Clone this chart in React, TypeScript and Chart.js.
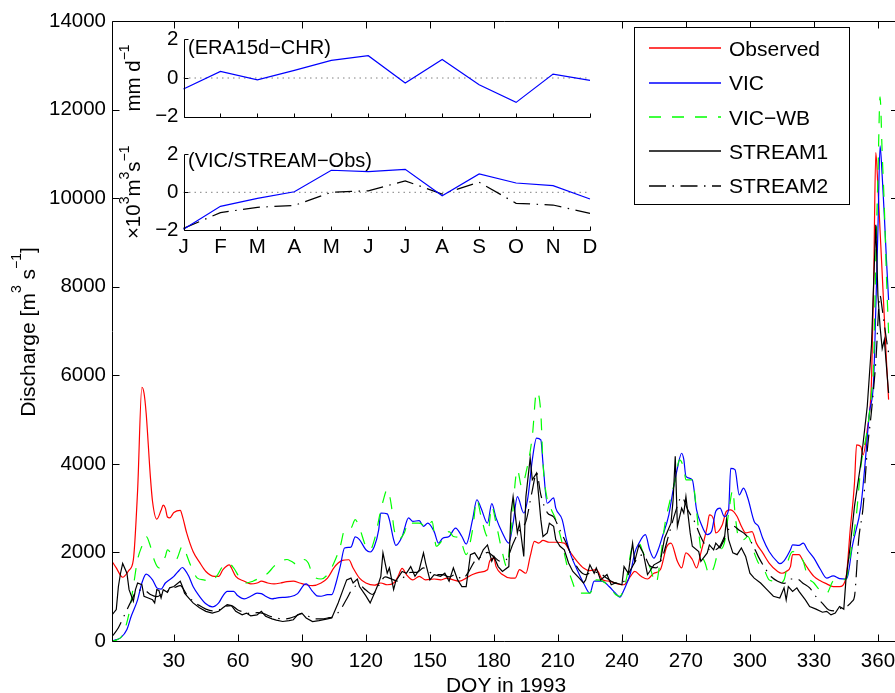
import React, { useEffect, useRef } from 'react';
import { Chart, registerables } from 'chart.js';

Chart.register(...registerables);

const FONT = '"Liberation Sans", Arial, Helvetica, sans-serif';

// ---------------- main chart data ----------------
const dayTicks = [30, 60, 90, 120, 150, 180, 210, 240, 270, 300, 330, 360];
const dischargeTicks = [0, 2000, 4000, 6000, 8000, 10000, 12000, 14000];

const observed: number[][] = [
  [1,1800],[3,1650],[6,1440],[9,1600],[11,1830],[13,3400],[15,5730],[16,5600],[17,5150],[19,3700],[20,3150],[22,2750],
  [24,2950],[25,3070],[26,3000],[27,2800],[28,2780],[30,2900],[33,2950],[34,2820],[36,2440],[39,2020],[42,1780],[45,1570],
  [49,1460],[51,1460],[53,1610],[56,1720],[57,1650],[59,1460],[63,1350],[66,1290],[69,1310],[71,1350],[74,1310],[77,1290],
  [80,1310],[83,1340],[86,1350],[89,1310],[92,1270],[95,1250],[99,1310],[102,1420],[105,1650],[107,1760],[109,1820],[112,1835],
  [114,1650],[117,1420],[120,1310],[124,1260],[127,1310],[130,1270],[133,1310],[135,1450],[137,1640],[139,1500],[142,1380],
  [145,1460],[148,1380],[152,1400],[155,1380],[158,1420],[161,1380],[164,1350],[167,1420],[170,1500],[173,1550],[177,1610],
  [178,1800],[180,1870],[181,1680],[184,1500],[188,1420],[190,1420],[192,1610],[195,1530],[197,1910],[199,2250],[201,2210],
  [203,2270],[206,2230],[209,2230],[213,2210],[216,1990],[219,1800],[222,1650],[225,1590],[228,1610],[231,1380],[234,1350],
  [238,1290],[241,1270],[244,1460],[246,1570],[249,1460],[252,1400],[255,1530],[258,1610],[261,2130],[263,2210],[266,1800],
  [268,1650],[270,1990],[273,1840],[275,1650],[277,1990],[280,2590],[281,2850],[283,2740],[284,2440],[287,2620],[289,2930],
  [291,2960],[294,2810],[296,2590],[298,2440],[301,2470],[303,2210],[306,1990],[309,1760],[313,1570],[315,1530],[317,1570],
  [319,1680],[320,1950],[323,1950],[325,1800],[327,1650],[330,1460],[333,1360],[336,1290],[339,1230],[342,1230],[345,1420],
  [347,2510],[349,3560],[350,4430],[352,4390],[353,4200],[355,4770],[357,5900],[358,8100],[359,11030],[360,10250],[361,9270],
  [362,8290],[363,7300],[364,6320],[365,5450]
];

const vic: number[][] = [
  [1,0],[3,30],[5,70],[8,260],[10,560],[13,930],[15,1310],[17,1510],[20,1380],[22,1200],[24,1170],[26,1310],[27,1350],
  [30,1460],[32,1570],[34,1660],[35,1620],[37,1460],[39,1230],[42,1010],[45,840],[48,770],[51,860],[53,1020],[55,1120],
  [58,1120],[60,1020],[63,950],[66,1010],[69,1080],[71,1070],[73,1010],[76,950],[78,970],[81,985],[84,995],[88,1070],
  [91,1270],[92,1290],[95,1120],[97,1020],[99,1010],[102,1045],[104,1045],[106,1310],[108,1690],[110,2100],[113,2120],
  [115,2350],[117,2290],[120,2060],[122,2010],[124,2140],[126,2510],[127,2890],[130,2870],[131,2740],[133,2290],[134,2160],
  [137,2360],[140,2780],[142,2700],[145,2720],[147,2590],[149,2660],[152,2470],[154,2210],[156,2320],[159,2360],[162,2550],
  [165,2360],[167,2190],[170,2740],[172,3190],[174,3000],[177,2660],[179,3100],[181,2780],[184,2440],[187,2210],[189,2660],
  [191,3260],[194,2890],[196,3260],[198,4090],[200,4580],[202,4540],[203,4020],[205,3110],[208,3230],[209,3000],[212,2740],
  [214,2290],[216,1950],[219,1610],[222,1310],[225,1080],[227,1350],[230,1350],[232,1320],[234,1230],[237,1080],[239,990],
  [241,1160],[244,1530],[246,1990],[248,2210],[251,2400],[253,2060],[255,1870],[257,2060],[259,2360],[262,2850],[264,3410],
  [266,3900],[268,4240],[269,4100],[270,3720],[273,3640],[275,2960],[277,2660],[280,2400],[282,2470],[284,2930],[286,3000],
  [288,2810],[290,2960],[291,3900],[293,3870],[295,3300],[297,3450],[299,3230],[302,2700],[304,2590],[306,2320],[309,2020],
  [313,1780],[314,1745],[316,1810],[319,2060],[320,2170],[323,2160],[325,2210],[327,2060],[330,1870],[333,1620],[336,1420],
  [339,1470],[342,1410],[345,1400],[346,1500],[348,2140],[352,3040],[354,4020],[356,5150],[358,5900],[359,7500],[360,9300],
  [361,11180],[362,10500],[363,9600],[364,8600],[365,7700]
];

const vicWb: number[][] = [
  [1,0],[3,20],[6,140],[9,630],[11,1230],[13,1840],[15,2140],[17,2360],[19,2140],[21,1800],[23,1650],[26,1910],[27,2060],
  [29,1950],[31,1840],[34,2140],[35,2060],[38,1690],[41,1420],[44,1380],[47,1350],[50,1460],[53,1690],[56,1740],[58,1650],
  [61,1420],[64,1310],[67,1350],[70,1420],[74,1530],[77,1690],[80,1800],[83,1840],[85,1800],[88,1720],[91,1840],[93,1760],
  [95,1500],[99,1400],[102,1500],[105,1760],[108,2140],[110,2510],[113,2550],[115,2740],[117,2550],[120,2140],[122,2060],
  [124,2290],[127,2960],[128,3150],[130,3420],[132,3040],[133,2590],[135,2290],[138,2440],[140,2700],[142,2660],[145,2660],
  [149,2550],[151,2700],[153,2140],[156,2290],[159,2470],[161,2360],[164,2320],[167,1950],[170,2510],[172,3190],[174,2810],
  [177,2360],[179,3040],[181,2660],[184,1990],[186,1680],[188,2440],[191,3870],[193,3490],[195,3790],[198,4620],[200,5630],
  [202,5140],[203,4020],[205,3190],[207,2960],[209,2740],[212,2210],[214,1760],[217,1310],[219,1080],[222,1080],[225,1080],
  [228,1380],[231,1350],[234,1230],[237,1050],[239,1010],[242,1380],[245,2140],[248,2210],[250,1990],[253,1680],[256,1310],
  [258,1840],[260,2590],[263,3260],[265,3640],[267,4090],[269,3900],[270,3640],[273,3640],[275,2930],[277,2060],[279,1760],
  [281,1500],[283,1650],[285,1990],[288,2210],[290,2890],[292,3410],[293,2890],[295,2290],[297,2290],[299,2360],[302,1990],
  [304,1760],[306,1680],[309,1380],[311,1350],[313,1290],[316,1380],[318,1830],[320,2020],[323,1950],[325,1800],[327,1460],
  [330,1310],[333,1140],[336,1080],[339,1350],[342,1380],[345,1400],[347,1910],[350,2890],[352,3940],[355,4770],[357,5600],
  [358,6300],[359,8600],[360,10500],[361,12290],[362,11000],[363,9800],[364,8230],[365,6950]
];

const stream1: number[][] = [
  [1,590],[3,710],[4,1230],[5,1530],[6,1750],[8,1530],[9,1160],[11,900],[12,1160],[13,1310],[15,1270],[16,1010],[18,970],
  [20,930],[21,860],[22,1160],[23,1140],[24,970],[25,1160],[27,1100],[28,1200],[30,1230],[33,1350],[34,1230],[35,1080],
  [37,970],[39,860],[42,750],[45,670],[48,630],[51,670],[53,750],[55,820],[57,800],[59,670],[62,590],[64,630],[66,570],
  [69,590],[71,670],[73,560],[76,500],[78,470],[81,440],[84,460],[86,480],[88,590],[90,630],[92,520],[95,440],[98,460],
  [102,500],[104,520],[105,630],[107,860],[109,1120],[111,1380],[113,1420],[114,1310],[116,1400],[117,1230],[120,1020],
  [122,860],[124,1080],[126,1310],[127,1460],[128,1990],[130,1530],[131,1650],[133,1160],[134,1350],[137,1570],[139,1530],
  [141,1680],[143,1460],[145,1610],[147,1990],[148,1760],[150,1380],[152,1500],[155,1460],[157,1530],[159,1350],[161,1650],
  [163,1380],[165,1230],[167,1230],[169,1950],[171,1990],[173,1840],[175,2060],[177,2170],[179,1800],[180,1910],[182,1680],
  [184,1570],[187,1680],[188,2890],[189,3260],[191,2440],[192,2660],[194,1910],[195,3260],[197,4130],[198,3640],[200,3790],
  [202,2740],[203,2360],[205,2440],[206,2660],[208,2590],[209,2290],[211,2140],[213,2060],[215,1760],[217,1570],[220,1420],
  [222,1310],[223,1380],[225,1720],[227,1530],[228,1650],[230,1380],[233,1500],[235,1270],[237,1310],[240,1270],[241,1680],
  [243,1530],[245,2210],[246,1800],[248,2170],[250,1990],[252,1500],[253,1570],[255,1720],[258,1800],[260,2320],[263,2660],
  [264,3190],[265,4170],[266,2590],[268,3000],[269,2890],[270,3260],[272,2440],[273,2140],[276,2020],[277,1800],[280,1990],
  [281,2170],[283,2060],[284,2210],[286,2100],[288,2290],[289,2740],[290,2290],[292,1990],[294,1950],[296,2100],[298,1910],
  [300,1530],[302,1420],[305,1310],[308,1160],[311,1010],[314,970],[316,1200],[317,930],[318,1230],[320,1120],[322,1200],
  [323,1120],[326,930],[328,780],[331,720],[334,650],[336,670],[338,590],[340,630],[342,780],[344,720],[345,1380],[347,2140],
  [349,3040],[352,4020],[355,5300],[357,6700],[358,8100],[359,9400],[360,7800],[361,7100],[362,6600],[363,6800],[364,6200],
  [365,5600]
];

const stream2: number[][] = [
  [1,100],[4,300],[7,600],[10,900],[13,1150],[16,1150],[19,1050],[22,1000],[25,1080],[28,1150],[31,1220],[33,1250],
  [36,1050],[39,900],[42,800],[45,720],[48,680],[51,700],[54,780],[57,800],[60,700],[63,650],[66,620],[69,640],[72,620],
  [75,560],[78,520],[81,500],[84,510],[87,560],[90,620],[93,560],[96,500],[99,500],[102,520],[105,560],[108,700],[111,950],
  [114,1200],[117,1250],[120,1150],[123,1050],[126,1250],[129,1450],[132,1400],[135,1350],[138,1450],[141,1550],[144,1550],
  [147,1650],[150,1550],[153,1500],[156,1500],[159,1450],[162,1500],[165,1400],[168,1550],[171,1800],[174,1900],[177,2000],
  [180,1900],[183,1800],[186,1850],[189,2200],[192,2500],[195,2700],[198,3400],[200,3800],[202,3300],[205,2900],[208,2800],
  [211,2500],[214,2200],[217,1850],[220,1600],[223,1500],[226,1550],[229,1550],[232,1450],[235,1350],[238,1300],[241,1350],
  [244,1600],[247,1850],[250,1950],[253,1700],[256,1650],[259,1900],[262,2400],[265,2900],[268,3250],[271,2950],[274,2700],
  [277,2350],[280,2100],[283,2050],[286,2150],[289,2450],[292,2600],[295,2500],[298,2400],[301,2200],[304,1900],[307,1650],
  [310,1450],[313,1350],[316,1300],[319,1400],[322,1400],[325,1300],[328,1200],[331,1000],[334,850],[337,700],[340,680],
  [343,750],[346,800],[348,900],[349,1000],[351,2300],[353,3000],[355,4300],[357,5200],[359,6300],[361,7800],[362,7500],
  [364,6800],[365,6500]
];

// ---------------- inset data ----------------
const months = ['J', 'F', 'M', 'A', 'M', 'J', 'J', 'A', 'S', 'O', 'N', 'D'];
const insetTicks = [-2, 0, 2];
const era15dMinusChr = [-0.57, 0.34, -0.10, 0.39, 0.91, 1.15, -0.26, 0.96, -0.35, -1.26, 0.20, -0.12];
const vicMinusObs = [-1.94, -0.74, -0.32, 0.03, 1.16, 1.09, 1.21, -0.18, 0.97, 0.49, 0.35, -0.35];
const streamMinusObs = [-1.90, -1.07, -0.79, -0.69, 0.00, 0.08, 0.60, -0.09, 0.53, -0.58, -0.67, -1.11];
const zeroRef = [0, 0, 0, 0, 0, 0, 0, 0, 0, 0, 0, 0];

const legendItems = [
  { label: 'Observed', color: '#ff0000', dash: [] as number[] },
  { label: 'VIC', color: '#0000ff', dash: [] as number[] },
  { label: 'VIC\u2212WB', color: '#00ff00', dash: [12, 11] },
  { label: 'STREAM1', color: '#000000', dash: [] as number[] },
  { label: 'STREAM2', color: '#000000', dash: [17, 6.5, 1.5, 6.5] },
];

type Seg = { t: string; sup?: boolean };

function drawRotatedRich(ctx: CanvasRenderingContext2D, segs: Seg[], baseX: number, cy: number, size: number, supSize: number, raise: number) {
  ctx.save();
  ctx.translate(baseX, cy);
  ctx.rotate(-Math.PI / 2);
  let total = 0;
  const widths: number[] = [];
  for (const s of segs) {
    ctx.font = `${s.sup ? supSize : size}px ${FONT}`;
    const w = ctx.measureText(s.t).width;
    widths.push(w);
    total += w;
  }
  let x = -total / 2;
  ctx.textAlign = 'left';
  ctx.textBaseline = 'alphabetic';
  ctx.fillStyle = '#000';
  segs.forEach((s, i) => {
    ctx.font = `${s.sup ? supSize : size}px ${FONT}`;
    ctx.fillText(s.t, x, s.sup ? -raise : 0);
    x += widths[i];
  });
  ctx.restore();
}

const mainFrame = {
  id: 'mainFrame',
  afterDatasetsDraw(chart: any) {
    const { ctx, chartArea: a, scales } = chart;
    const xs = scales.x;
    const ys = scales.y;
    ctx.save();
    ctx.strokeStyle = '#000';
    ctx.lineWidth = 1;
    ctx.setLineDash([]);
    const L = Math.round(a.left) + 0.5;
    const T = Math.round(a.top) + 0.5;
    const B = Math.round(a.bottom) + 0.5;
    const R = a.right + 3;
    ctx.beginPath();
    ctx.moveTo(R, T);
    ctx.lineTo(L, T);
    ctx.lineTo(L, B);
    ctx.lineTo(R, B);
    for (const v of dayTicks) {
      const x = Math.round(xs.getPixelForValue(v)) + 0.5;
      ctx.moveTo(x, B);
      ctx.lineTo(x, B - 7);
      ctx.moveTo(x, T);
      ctx.lineTo(x, T + 7);
    }
    for (const v of dischargeTicks) {
      const y = Math.round(ys.getPixelForValue(v)) + 0.5;
      ctx.moveTo(L, y);
      ctx.lineTo(L + 7, y);
      ctx.moveTo(R, y);
      ctx.lineTo(R - 7, y);
    }
    ctx.stroke();
    ctx.restore();
  },
  afterDraw(chart: any) {
    const { ctx } = chart;
    ctx.save();
    // legend
    ctx.fillStyle = '#fff';
    ctx.fillRect(634, 27, 216, 177);
    ctx.strokeStyle = '#000';
    ctx.lineWidth = 1;
    ctx.setLineDash([]);
    ctx.strokeRect(634.5, 27.5, 215, 177);
    legendItems.forEach((it, i) => {
      const y = 48.3 + i * 34.3;
      ctx.save();
      ctx.strokeStyle = it.color;
      ctx.lineWidth = 1.6;
      ctx.setLineDash(it.dash);
      ctx.beginPath();
      ctx.moveTo(649, Math.round(y));
      ctx.lineTo(721, Math.round(y));
      ctx.stroke();
      ctx.restore();
      ctx.fillStyle = '#000';
      ctx.font = `21px ${FONT}`;
      ctx.textAlign = 'left';
      ctx.textBaseline = 'alphabetic';
      ctx.fillText(it.label, 729, y + 7.6);
    });
    // axis titles
    ctx.fillStyle = '#000';
    ctx.font = `21px ${FONT}`;
    ctx.textAlign = 'center';
    ctx.textBaseline = 'alphabetic';
    ctx.fillText('DOY in 1993', 506, 691.5);
    drawRotatedRich(ctx, [
      { t: 'Discharge [m' }, { t: '3', sup: true }, { t: ' s' }, { t: '\u22121', sup: true }, { t: ']' },
    ], 35, 332, 21, 14, 14);
    ctx.restore();
  },
};

function makeInsetFrame(label: string, labelBaseline: number, titleSegs: Seg[]) {
  return {
    id: 'insetFrame',
    afterDatasetsDraw(chart: any) {
      const { ctx, chartArea: a, scales } = chart;
      const xs = scales.x;
      const ys = scales.y;
      ctx.save();
      ctx.strokeStyle = '#000';
      ctx.lineWidth = 1;
      ctx.setLineDash([]);
      const L = Math.round(a.left) + 0.5;
      const B = Math.round(a.bottom) + 0.5;
      const T = Math.round(a.top) + 0.5;
      const R = Math.round(a.right) + 0.5;
      ctx.beginPath();
      ctx.moveTo(L, T);
      ctx.lineTo(L, B);
      ctx.lineTo(R, B);
      for (let i = 0; i < months.length; i++) {
        const x = Math.round(xs.getPixelForValue(i)) + 0.5;
        ctx.moveTo(x, B);
        ctx.lineTo(x, B - 4);
      }
      for (const v of insetTicks) {
        const y = Math.round(ys.getPixelForValue(v)) + 0.5;
        ctx.moveTo(L, y);
        ctx.lineTo(L + 4, y);
      }
      ctx.stroke();
      ctx.fillStyle = '#000';
      ctx.font = `20px ${FONT}`;
      ctx.textAlign = 'left';
      ctx.textBaseline = 'alphabetic';
      ctx.fillText(label, 188, labelBaseline);
      drawRotatedRich(ctx, titleSegs, 140, (a.top + a.bottom) / 2, 20.5, 14, 11);
      ctx.restore();
    },
  };
}

function insetConfig(top: number, bottom: number, showX: boolean, datasets: any[], frame: any) {
  const xh = showX ? 30 : 0;
  return {
    type: 'line',
    data: { labels: months, datasets },
    options: {
      animation: false,
      responsive: false,
      events: [],
      layout: { padding: { left: 183.5 - 40, right: 895 - 590, top, bottom: 693 - bottom - xh } },
      plugins: { legend: { display: false }, tooltip: { enabled: false }, title: { display: false } },
      elements: { point: { radius: 0 }, line: { tension: 0 } },
      scales: {
        x: {
          type: 'category',
          offset: false,
          grid: { display: false, drawTicks: false },
          border: { display: false },
          ticks: { display: showX, autoSkip: false, maxRotation: 0, padding: 5, color: '#000', font: { family: FONT, size: 20.5 } },
          afterFit: (s: any) => { s.height = xh; s.paddingLeft = 0; s.paddingRight = 0; },
        },
        y: {
          min: -2,
          max: 2,
          grid: { display: false, drawTicks: false },
          border: { display: false },
          afterBuildTicks: (s: any) => { s.ticks = insetTicks.map((v) => ({ value: v })); },
          ticks: {
            padding: 5,
            color: '#000',
            font: { family: FONT, size: 20.5 },
            callback: (v: any) => (Number(v) < 0 ? '\u2212' + Math.abs(Number(v)) : String(v)),
          },
          afterFit: (s: any) => { s.width = 40; s.paddingTop = 0; s.paddingBottom = 0; },
        },
      },
    },
    plugins: [frame],
  } as any;
}

const zeroDataset = {
  data: zeroRef, borderColor: '#808080', borderWidth: 1, borderDash: [1.5, 4], pointRadius: 0, order: 3,
};

export default function App() {
  const mainRef = useRef<HTMLCanvasElement>(null);
  const inset1Ref = useRef<HTMLCanvasElement>(null);
  const inset2Ref = useRef<HTMLCanvasElement>(null);

  useEffect(() => {
    document.body.style.margin = '0';
    const toXY = (arr: number[][]) => arr.map(([x, y]) => ({ x, y }));
    const line = (data: number[][], color: string, dash: number[], smooth: boolean, order: number) => ({
      data: toXY(data),
      borderColor: color,
      borderWidth: 1.2,
      borderDash: dash,
      pointRadius: 0,
      fill: false,
      cubicInterpolationMode: smooth ? 'monotone' : 'default',
      tension: 0,
      order,
    });

    const main = new Chart(mainRef.current as HTMLCanvasElement, {
      type: 'line',
      data: {
        datasets: [
          line(observed, '#ff0000', [], true, 5),
          line(vic, '#0000ff', [], true, 4),
          line(vicWb, '#00ff00', [12, 11], true, 3),
          line(stream1, '#000000', [], false, 2),
          line(stream2, '#000000', [17, 6.5, 1.5, 6.5], true, 1),
        ] as any,
      },
      options: {
        animation: false,
        responsive: false,
        events: [],
        layout: { padding: { left: 0, right: 0, top: 21, bottom: 0 } },
        plugins: { legend: { display: false }, tooltip: { enabled: false }, title: { display: false } },
        scales: {
          x: {
            type: 'linear',
            min: 1,
            max: 368,
            grid: { display: false, drawTicks: false },
            border: { display: false },
            afterBuildTicks: (s: any) => { s.ticks = dayTicks.map((v) => ({ value: v })); },
            ticks: { padding: 8, maxRotation: 0, autoSkip: false, color: '#000', font: { family: FONT, size: 20.5 }, callback: (v: any) => String(v) },
            afterFit: (s: any) => { s.height = 52; s.paddingLeft = 0; s.paddingRight = 0; },
          },
          y: {
            min: 0,
            max: 14000,
            grid: { display: false, drawTicks: false },
            border: { display: false },
            afterBuildTicks: (s: any) => { s.ticks = dischargeTicks.map((v) => ({ value: v })); },
            ticks: { padding: 6, color: '#000', font: { family: FONT, size: 20.5 }, callback: (v: any) => String(v) },
            afterFit: (s: any) => { s.width = 112; s.paddingTop = 0; s.paddingBottom = 0; },
          },
        },
      } as any,
      plugins: [mainFrame as any],
    });

    const inset1 = new Chart(
      inset1Ref.current as HTMLCanvasElement,
      insetConfig(39.3, 116.7, false, [
        { data: era15dMinusChr, borderColor: '#0000ff', borderWidth: 1.2, pointRadius: 0, order: 1 },
        zeroDataset,
      ], makeInsetFrame('(ERA15d\u2212CHR)', 53.5, [{ t: 'mm d' }, { t: '\u22121', sup: true }])),
    );

    const inset2 = new Chart(
      inset2Ref.current as HTMLCanvasElement,
      insetConfig(154.3, 230.3, true, [
        { data: vicMinusObs, borderColor: '#0000ff', borderWidth: 1.2, pointRadius: 0, order: 1 },
        { data: streamMinusObs, borderColor: '#000000', borderWidth: 1.2, borderDash: [17, 6.5, 1.5, 6.5], pointRadius: 0, order: 2 },
        { ...zeroDataset },
      ], makeInsetFrame('(VIC/STREAM\u2212Obs)', 166.5, [
        { t: '\u00d710' }, { t: '3', sup: true }, { t: 'm' }, { t: '3', sup: true }, { t: 's' }, { t: '\u22121', sup: true },
      ])),
    );

    return () => {
      main.destroy();
      inset1.destroy();
      inset2.destroy();
    };
  }, []);

  const cs: React.CSSProperties = { position: 'absolute', left: 0, top: 0, width: 895, height: 693 };
  return (
    <div style={{ position: 'relative', width: 895, height: 693, background: '#fff', overflow: 'hidden' }}>
      <canvas ref={mainRef} width={895} height={693} style={cs} />
      <canvas ref={inset1Ref} width={895} height={693} style={{ ...cs, pointerEvents: 'none' }} />
      <canvas ref={inset2Ref} width={895} height={693} style={{ ...cs, pointerEvents: 'none' }} />
    </div>
  );
}
